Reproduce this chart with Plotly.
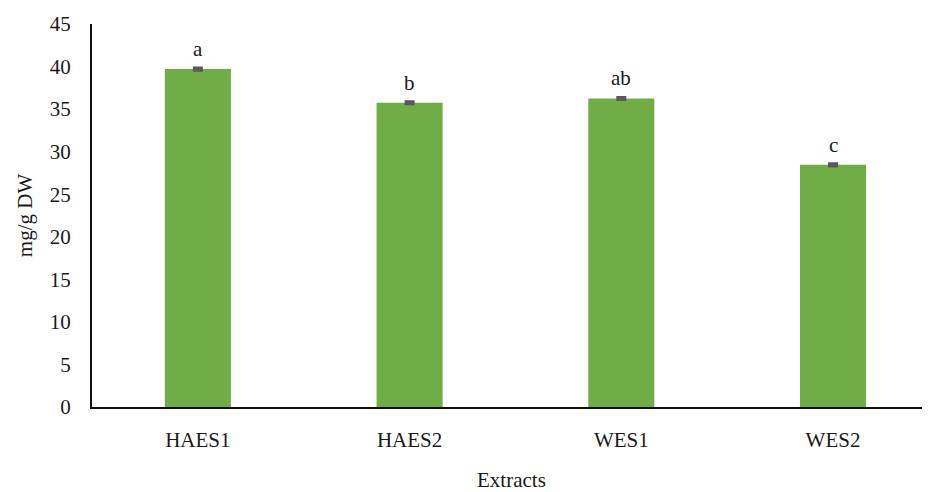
import plotly.graph_objects as go

categories = ["HAES1", "HAES2", "WES1", "WES2"]
values = [39.7, 35.75, 36.25, 28.45]
errors = [0.12, 0.12, 0.12, 0.12]
letters = ["a", "b", "ab", "c"]
y_ticks = [0, 5, 10, 15, 20, 25, 30, 35, 40, 45]

FONT = "Liberation Serif, Times New Roman, serif"
TXT = "#1a1a1a"

fig = go.Figure()
fig.add_trace(go.Bar(
    x=categories, y=values,
    marker=dict(color="#70AD47", line=dict(width=0)),
    error_y=dict(type="data", array=errors, visible=True, color="#595959", thickness=3, width=5),
    width=0.312,
))

for c, v, e, t in zip(categories, values, errors, letters):
    fig.add_annotation(x=c, y=v + e, text=t, showarrow=False, yanchor="bottom", yshift=5,
                       font=dict(family=FONT, size=21, color=TXT))

fig.add_annotation(x=0.5, y=0, xref="paper", yref="paper", text="Extracts", showarrow=False,
                   xanchor="center", yanchor="middle", yshift=-73,
                   font=dict(family=FONT, size=21, color=TXT))

fig.update_layout(
    width=922, height=484,
    margin=dict(l=84, r=0, t=16, b=85),
    paper_bgcolor="white", plot_bgcolor="white",
    showlegend=False,
    font=dict(family=FONT, size=21, color=TXT),
    xaxis=dict(
        range=[-0.5, 3.458], automargin=False,
        showline=True, linecolor="#111111", linewidth=2,
        ticks="", showgrid=False,
        tickfont=dict(family=FONT, size=21),
        ticklabelstandoff=13,
    ),
    yaxis=dict(
        range=[0, 45], tickvals=y_ticks, automargin=False,
        showline=True, linecolor="#111111", linewidth=2,
        ticks="", showgrid=False, zeroline=False,
        title=dict(text="mg/g DW", standoff=11, font=dict(family=FONT, size=21)),
        tickfont=dict(family=FONT, size=21),
        ticklabelstandoff=15,
    ),
)

fig.write_html("out.html")
